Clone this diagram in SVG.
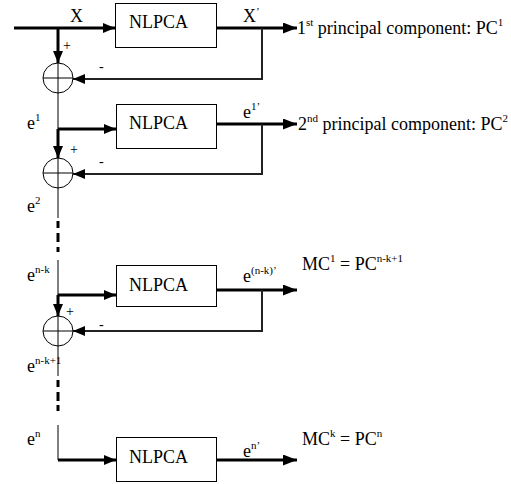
<svg xmlns="http://www.w3.org/2000/svg" width="511" height="484" viewBox="0 0 511 484">
<defs>
<marker id="ah" markerUnits="userSpaceOnUse" markerWidth="12" markerHeight="10" refX="12" refY="5" orient="auto"><path d="M0,0 L12,5 L0,10 z" fill="#000"/></marker>
<marker id="ahb" markerUnits="userSpaceOnUse" markerWidth="14" markerHeight="11" refX="14" refY="5.5" orient="auto"><path d="M0,0 L14,5.5 L0,11 z" fill="#000"/></marker>
</defs>
<style>
.t{font-size:18px}
.s{font-size:11px}
.box{fill:#fff;stroke:#000;stroke-width:1}
.thick{stroke:#000;stroke-width:3;fill:none}
.thin{stroke:#000;stroke-width:1;fill:none}
.fb{stroke:#222;stroke-width:2;fill:none}
.sum{fill:none;stroke:#000;stroke-width:1}
.sign{font-size:14px}
</style>
<rect width="511" height="484" fill="#fff"/>
<g id="connectors">
<line class="thick" x1="14" y1="28" x2="115" y2="28" marker-end="url(#ah)"/>
<line class="thick" x1="58" y1="28" x2="58" y2="63" marker-end="url(#ah)"/>
<line class="thick" x1="217" y1="28" x2="297" y2="28" marker-end="url(#ahb)"/>
<polyline class="fb" points="262,28 262,79 73,79" marker-end="url(#ah)"/>
<line class="thin" x1="58" y1="93" x2="58" y2="129"/>
<line class="thick" x1="58" y1="129" x2="116" y2="129" marker-end="url(#ah)"/>
<line class="thick" x1="58" y1="129" x2="58" y2="158" marker-end="url(#ah)"/>
<line class="thick" x1="217" y1="124" x2="297" y2="124" marker-end="url(#ahb)"/>
<polyline class="fb" points="262,124 262,174 73,174" marker-end="url(#ah)"/>
<line class="thin" x1="58" y1="188" x2="58" y2="218"/>
<line class="thick" x1="58" y1="221" x2="58" y2="228"/>
<line class="thick" x1="58" y1="233" x2="58" y2="242"/>
<line class="thick" x1="58" y1="247" x2="58" y2="252"/>
<line class="thin" x1="58" y1="260" x2="58" y2="295"/>
<line class="thick" x1="58" y1="295" x2="116" y2="295" marker-end="url(#ah)"/>
<line class="thick" x1="58" y1="295" x2="58" y2="316" marker-end="url(#ah)"/>
<line class="thick" x1="217" y1="290" x2="297" y2="290" marker-end="url(#ahb)"/>
<polyline class="fb" points="262,290 262,331 73,331" marker-end="url(#ah)"/>
<line class="thin" x1="58" y1="346" x2="58" y2="376"/>
<line class="thick" x1="58" y1="380" x2="58" y2="387"/>
<line class="thick" x1="58" y1="392" x2="58" y2="401"/>
<line class="thick" x1="58" y1="405" x2="58" y2="411"/>
<line class="thin" x1="58" y1="425" x2="58" y2="460"/>
<line class="thick" x1="58" y1="460" x2="116" y2="460" marker-end="url(#ah)"/>
<line class="thick" x1="217" y1="460" x2="297" y2="460" marker-end="url(#ahb)"/>
</g>
<g font-family="Liberation Serif, Times New Roman, DejaVu Serif, serif" fill="#000">
<g id="nlpca1"><rect class="box" x="115.5" y="3.5" width="101" height="44"/><text class="t" x="129" y="28">NLPCA</text></g>
<g id="nlpca2"><rect class="box" x="116.5" y="104.5" width="100" height="44"/><text class="t" x="129" y="129">NLPCA</text></g>
<g id="nlpca3"><rect class="box" x="116.5" y="265.5" width="100" height="41"/><text class="t" x="129" y="291">NLPCA</text></g>
<g id="nlpca4"><rect class="box" x="116.5" y="437.5" width="100" height="44"/><text class="t" x="129" y="463">NLPCA</text></g>
<g id="sum1"><circle class="sum" cx="58" cy="78" r="15"/><line class="thin" x1="43" y1="78" x2="73" y2="78"/><line class="thin" x1="58" y1="63" x2="58" y2="93"/><text class="sign" x="63" y="50">+</text><text class="sign" x="99" y="71">-</text></g>
<g id="sum2"><circle class="sum" cx="58" cy="173" r="15"/><line class="thin" x1="43" y1="173" x2="73" y2="173"/><line class="thin" x1="58" y1="158" x2="58" y2="188"/><text class="sign" x="70" y="154">+</text><text class="sign" x="99" y="166">-</text></g>
<g id="sum3"><circle class="sum" cx="58" cy="331" r="15"/><line class="thin" x1="43" y1="331" x2="73" y2="331"/><line class="thin" x1="58" y1="316" x2="58" y2="346"/><text class="sign" x="66" y="316">+</text><text class="sign" x="99" y="329">-</text></g>
<g id="labels">
<text class="t" x="70" y="22">X</text>
<text class="t" x="243" y="22">X<tspan class="s" dy="-7">’</tspan></text>
<text class="t" x="297" y="34">1<tspan class="s" dy="-8">st</tspan><tspan dy="8"> principal component: PC</tspan><tspan class="s" dy="-8">1</tspan></text>
<text class="t" x="27" y="129">e<tspan class="s" dy="-8">1</tspan></text>
<text class="t" x="243" y="118">e<tspan class="s" dy="-8">1’</tspan></text>
<text class="t" x="298" y="130">2<tspan class="s" dy="-8">nd</tspan><tspan dy="8"> principal component: PC</tspan><tspan class="s" dy="-8">2</tspan></text>
<text class="t" x="27" y="212">e<tspan class="s" dy="-8">2</tspan></text>
<text class="t" x="27" y="281">e<tspan class="s" dy="-8">n-k</tspan></text>
<text class="t" x="243" y="282">e<tspan class="s" dy="-8">(n-k)’</tspan></text>
<text class="t" x="302" y="270">MC<tspan class="s" dy="-8">1</tspan><tspan dy="8"> = PC</tspan><tspan class="s" dy="-8">n-k+1</tspan></text>
<text class="t" x="27" y="372">e<tspan class="s" dy="-8">n-k+1</tspan></text>
<text class="t" x="27" y="445">e<tspan class="s" dy="-8">n</tspan></text>
<text class="t" x="243" y="457">e<tspan class="s" dy="-8">n’</tspan></text>
<text class="t" x="302" y="445">MC<tspan class="s" dy="-8">k</tspan><tspan dy="8"> = PC</tspan><tspan class="s" dy="-8">n</tspan></text>
</g>
</g>
</svg>
